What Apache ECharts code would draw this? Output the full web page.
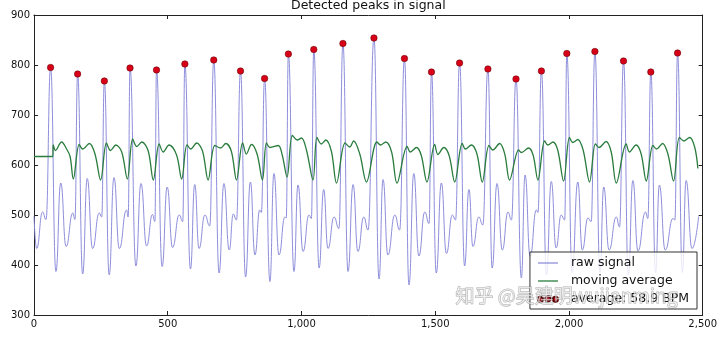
<!DOCTYPE html>
<html>
<head>
<meta charset="utf-8">
<script src="https://cdn.jsdelivr.net/npm/echarts@6/dist/echarts.min.js"></script>
<style>
  html, body { margin: 0; padding: 0; background: #fff; }
  #chart { width: 720px; height: 337px; }
</style>
</head>
<body>
<div id="chart"></div>
<script>
// Raw heart-rate signal (sample index, amplitude): peaks, troughs and bumps of each beat
const rawSignalX = [0, 10, 32, 45,
  62, 82, 100, 120, 145, 153,
  163, 182, 199, 219, 244, 253,
  263, 281, 299, 319, 346, 352,
  359, 381, 400, 421, 443, 452,
  458, 479, 498, 518, 543, 556,
  564, 585, 601, 617, 639, 657,
  672, 692, 710, 730, 745, 757,
  772, 791, 809, 826, 844, 850,
  862, 882, 897, 916, 938, 943,
  951, 972, 987, 1006, 1028, 1037,
  1046, 1066, 1083, 1099, 1122, 1140,
  1155, 1174, 1193, 1211, 1233, 1249,
  1271, 1290, 1305, 1323, 1349, 1367,
  1385, 1402, 1420, 1439, 1461, 1477,
  1486, 1504, 1523, 1542, 1564, 1576,
  1591, 1610, 1626, 1641, 1663, 1678,
  1697, 1713, 1731, 1751, 1772, 1785,
  1802, 1822, 1836, 1855, 1878, 1884,
  1897, 1916, 1934, 1952, 1971, 1984,
  1992, 2012, 2033, 2050, 2071, 2083,
  2097, 2116, 2130, 2150, 2177, 2189,
  2204, 2222, 2239, 2258, 2286, 2295,
  2306, 2324, 2338, 2360, 2389, 2396,
  2406, 2424, 2438, 2460, 2485];
const rawSignalY = [497, 433, 506, 491,
  795, 387, 564, 437, 504, 491,
  782, 382, 573, 433, 504, 496,
  768, 380, 575, 433, 510, 496,
  794, 398, 563, 438, 501, 487,
  790, 397, 556, 435, 500, 487,
  802, 392, 561, 433, 500, 478,
  810, 384, 563, 430, 502, 490,
  788, 376, 566, 420, 510, 505,
  773, 367, 583, 420, 496, 494,
  822, 387, 560, 427, 500, 493,
  831, 394, 551, 433, 496, 473,
  843, 387, 561, 427, 496, 470,
  854, 372, 571, 420, 500, 470,
  813, 360, 583, 418, 506, 483,
  786, 384, 564, 423, 500, 490,
  804, 398, 551, 437, 496, 480,
  792, 394, 563, 430, 506, 490,
  772, 374, 580, 417, 510, 505,
  788, 380, 567, 434, 500, 490,
  823, 385, 566, 430, 494, 487,
  827, 385, 556, 430, 496, 476,
  808, 380, 569, 428, 506, 493,
  786, 385, 560, 430, 493, 490,
  824, 385, 569, 433, 497];

// Moving average of the signal (raised threshold line)
const movingAvgX = [0, 70, 72, 80, 103, 122, 135, 147,
  169, 182, 207, 228, 249,
  271, 286, 306, 328, 349,
  369, 384, 403, 427, 446,
  468, 483, 505, 533, 552,
  572, 586, 608, 630, 651,
  676, 697, 717, 738, 757,
  780, 794, 813, 834, 854,
  869, 882, 913, 928, 946,
  966, 984, 1000, 1019, 1043,
  1058, 1074, 1091, 1112, 1131,
  1163, 1180, 1195, 1218, 1243,
  1282, 1296, 1315, 1337, 1357,
  1395, 1407, 1430, 1448, 1469,
  1498, 1510, 1532, 1552, 1573,
  1601, 1613, 1635, 1656, 1676,
  1701, 1715, 1741, 1760, 1778,
  1812, 1822, 1849, 1866, 1884,
  1909, 1921, 1940, 1958, 1980,
  2002, 2014, 2033, 2053, 2077,
  2099, 2112, 2139, 2158, 2177,
  2214, 2226, 2251, 2270, 2289,
  2314, 2328, 2350, 2370, 2391,
  2413, 2430, 2451, 2470, 2482];
const movingAvgY = [617, 617, 640, 629, 646, 632, 617, 572,
  641, 632, 643, 622, 570,
  644, 629, 640, 626, 572,
  652, 637, 646, 628, 570,
  642, 626, 640, 620, 572,
  640, 632, 644, 628, 570,
  639, 634, 643, 627, 570,
  644, 622, 641, 622, 570,
  644, 635, 639, 620, 576,
  659, 650, 654, 629, 570,
  655, 642, 650, 627, 564,
  644, 636, 648, 622, 566,
  646, 640, 646, 626, 564,
  637, 626, 635, 619, 566,
  641, 621, 635, 619, 566,
  643, 632, 640, 622, 566,
  639, 630, 643, 622, 570,
  630, 625, 634, 620, 570,
  648, 640, 646, 630, 568,
  655, 645, 651, 630, 566,
  642, 635, 647, 626, 564,
  642, 626, 640, 622, 568,
  639, 632, 643, 622, 568,
  655, 648, 655, 636, 593];

// Detected R-peaks
const peakX = [62, 163, 263, 359, 458, 564, 672, 772, 862, 951, 1046, 1155,
  1271, 1385, 1486, 1591, 1697, 1802, 1897, 1992, 2097, 2204, 2306, 2406];
const peakY = [795, 782, 768, 794, 790, 802, 810, 788, 773, 822, 831, 843,
  854, 813, 786, 804, 792, 772, 788, 823, 827, 808, 786, 824];

const xTicks = [0, 500, 1000, 1500, 2000, 2500];
const yTicks = [300, 400, 500, 600, 700, 800, 900];

const titleText = 'Detected peaks in signal';
const seriesNames = ['raw signal', 'moving average', 'average: 58.9 BPM'];
const watermarkText = '知乎 @吴建明wujianming';

const zip = (xs, ys) => xs.map((x, i) => [x, ys[i]]);

const FONT = 'DejaVu Sans';
const axisColor = '#222';
const rawColor = '#8e8edc';
const avgColor = '#2a7d3e';
const peakColor = '#d80018';

// Legend keys: a short stroke for the lines, three dots for the peaks
const lineKey = 'path://M0,0L20,0L20,1.3L0,1.3Z';
const dotsKey = 'path://M0,3a2.5,2.5 0 1,0 5,0a2.5,2.5 0 1,0 -5,0M7.5,2.5a2.5,2.5 0 1,0 5,0a2.5,2.5 0 1,0 -5,0M15,3.2a2.5,2.5 0 1,0 5,0a2.5,2.5 0 1,0 -5,0';

function boxAxis(ticks, position, showLabel) {
  return {
    type: 'value',
    position: position,
    min: ticks[0],
    max: ticks[ticks.length - 1],
    interval: ticks[1] - ticks[0],
    axisLine: { show: true, onZero: false, lineStyle: { color: axisColor, width: 1 } },
    axisTick: { show: true, inside: true, length: 4, lineStyle: { color: axisColor, width: 1 } },
    axisLabel: {
      show: showLabel, color: '#111', fontSize: 10, fontFamily: FONT, margin: 4
    },
    splitLine: { show: false }
  };
}

const chart = echarts.init(document.getElementById('chart'), null, { renderer: 'canvas' });

chart.setOption({
  animation: false,
  backgroundColor: '#fff',
  title: {
    text: titleText,
    left: 291,
    top: -1,
    padding: 0,
    textStyle: { fontFamily: FONT, fontSize: 12.5, fontWeight: 'normal', color: '#111' }
  },
  grid: { left: 34, right: 17, top: 15, bottom: 22, containLabel: false },
  xAxis: [boxAxis(xTicks, 'bottom', true), boxAxis(xTicks, 'top', false)],
  yAxis: [boxAxis(yTicks, 'left', true), boxAxis(yTicks, 'right', false)],
  legend: {
    orient: 'vertical',
    right: 23,
    bottom: 28,
    padding: [4, 8, 3, 7],
    itemWidth: 20,
    itemHeight: 12,
    itemGap: 4,
    backgroundColor: 'rgba(255,255,255,0.8)',
    borderColor: '#333',
    borderWidth: 1,
    borderRadius: 0,
    textStyle: { fontFamily: FONT, fontSize: 12.5, color: '#111', lineHeight: 14, padding: [0, 0, 0, 8] },
    data: [
      { name: seriesNames[0], icon: lineKey },
      { name: seriesNames[1], icon: lineKey },
      { name: seriesNames[2], icon: dotsKey }
    ]
  },
  graphic: [{
    type: 'text',
    left: 455,
    top: 286,
    z: 100,
    silent: true,
    style: {
      text: watermarkText,
      font: '19px "Noto Sans CJK SC"',
      fill: 'rgba(255,255,255,0.6)',
      stroke: 'rgba(100,100,100,0.5)',
      lineWidth: 1
    }
  }],
  series: [
    {
      name: seriesNames[0],
      type: 'line',
      data: zip(rawSignalX, rawSignalY),
      symbol: 'none',
      smooth: 0.5,
      smoothMonotone: 'x',
      lineStyle: { color: rawColor, width: 1 },
      itemStyle: { color: rawColor },
      z: 2
    },
    {
      name: seriesNames[1],
      type: 'line',
      data: zip(movingAvgX, movingAvgY),
      symbol: 'none',
      smooth: 0.35,
      lineStyle: { color: avgColor, width: 1.3 },
      itemStyle: { color: avgColor },
      z: 3
    },
    {
      name: seriesNames[2],
      type: 'scatter',
      data: zip(peakX, peakY),
      symbol: 'circle',
      symbolSize: 6.5,
      itemStyle: { color: peakColor, borderColor: '#5a0000', borderWidth: 0.5, opacity: 1 },
      z: 4
    }
  ]
});
</script>
</body>
</html>
